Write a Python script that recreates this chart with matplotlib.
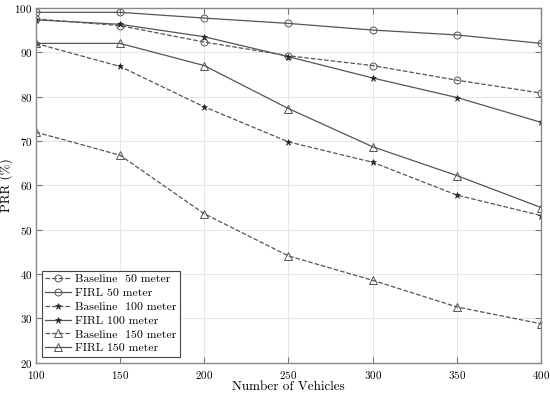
"""
PRR versus number of vehicles for Baseline and FIRL at three ranges.
"""

import matplotlib
matplotlib.use("Agg")
import matplotlib.pyplot as plt

plt.rcParams["font.family"] = "serif"
plt.rcParams["font.serif"] = ["cmr10", "DejaVu Serif"]
plt.rcParams["mathtext.fontset"] = "cm"
plt.rcParams["axes.formatter.use_mathtext"] = True

vehicles = [100, 150, 200, 250, 300, 350, 400]

baseline_50 = [97.5, 96.0, 92.3, 89.2, 87.0, 83.7, 80.8]
firl_50 = [99.0, 99.0, 97.7, 96.5, 95.0, 93.9, 92.0]
baseline_100 = [92.0, 86.8, 77.7, 69.8, 65.2, 57.8, 53.2]
firl_100 = [97.3, 96.3, 93.5, 89.0, 84.2, 79.8, 74.2]
baseline_150 = [72.0, 66.8, 53.6, 44.1, 38.6, 32.6, 28.8]
firl_150 = [92.0, 92.0, 87.0, 77.3, 68.7, 62.2, 55.0]

# Create plot

fig = plt.figure(figsize=(5.5, 3.94), dpi=100)
ax = fig.add_axes([0.065, 0.079, 0.919, 0.901])

c = "#555555"
ax.plot(vehicles, baseline_50, "--", color=c, lw=0.9, marker="o", ms=5,
        mfc="none", mew=0.7, label="Baseline  50 meter")
ax.plot(vehicles, firl_50, "-", color=c, lw=0.9, marker="o", ms=5,
        mfc="none", mew=0.7, label="FIRL 50 meter")
ax.plot(vehicles, baseline_100, "--", color=c, lw=0.9, marker="*", ms=4.5,
        mec="#222222", mfc="#222222", mew=0.4, label="Baseline  100 meter")
ax.plot(vehicles, firl_100, "-", color=c, lw=0.9, marker="*", ms=4.5,
        mec="#222222", mfc="#222222", mew=0.4, label="FIRL 100 meter")
ax.plot(vehicles, baseline_150, "--", color=c, lw=0.9, marker="^", ms=5.5,
        mfc="none", mew=0.7, label="Baseline  150 meter")
ax.plot(vehicles, firl_150, "-", color=c, lw=0.9, marker="^", ms=5.5,
        mfc="none", mew=0.7, label="FIRL 150 meter")

ax.set_xlim(100, 400)
ax.set_ylim(20, 100)
ax.set_xticks(vehicles)
ax.set_yticks(range(20, 101, 10))
ax.tick_params(direction="in", top=True, right=True, labelsize=8,
               length=4, color="#777777")
ax.tick_params(axis="x", pad=4.5)
ax.tick_params(axis="y", pad=2.5)
for s in ax.spines.values():
    s.set_color("#888888")
    s.set_linewidth(1.0)
ax.grid(True, color="#e6e6e6", lw=0.7)
ax.set_axisbelow(True)

ax.set_xlabel("Number of Vehicles", fontsize=9.5, labelpad=0)
ax.set_ylabel("PRR (%)", fontsize=9.5, labelpad=1)

leg = ax.legend(loc="lower left", fontsize=8.5, handlelength=2.2,
                fancybox=False, framealpha=1, borderaxespad=0.5,
                labelspacing=0.3, handletextpad=0.3, borderpad=0.3)
leg.get_frame().set_edgecolor("#444444")
leg.get_frame().set_linewidth(0.8)

# Save plot

plt.savefig("out.png", dpi=100)
